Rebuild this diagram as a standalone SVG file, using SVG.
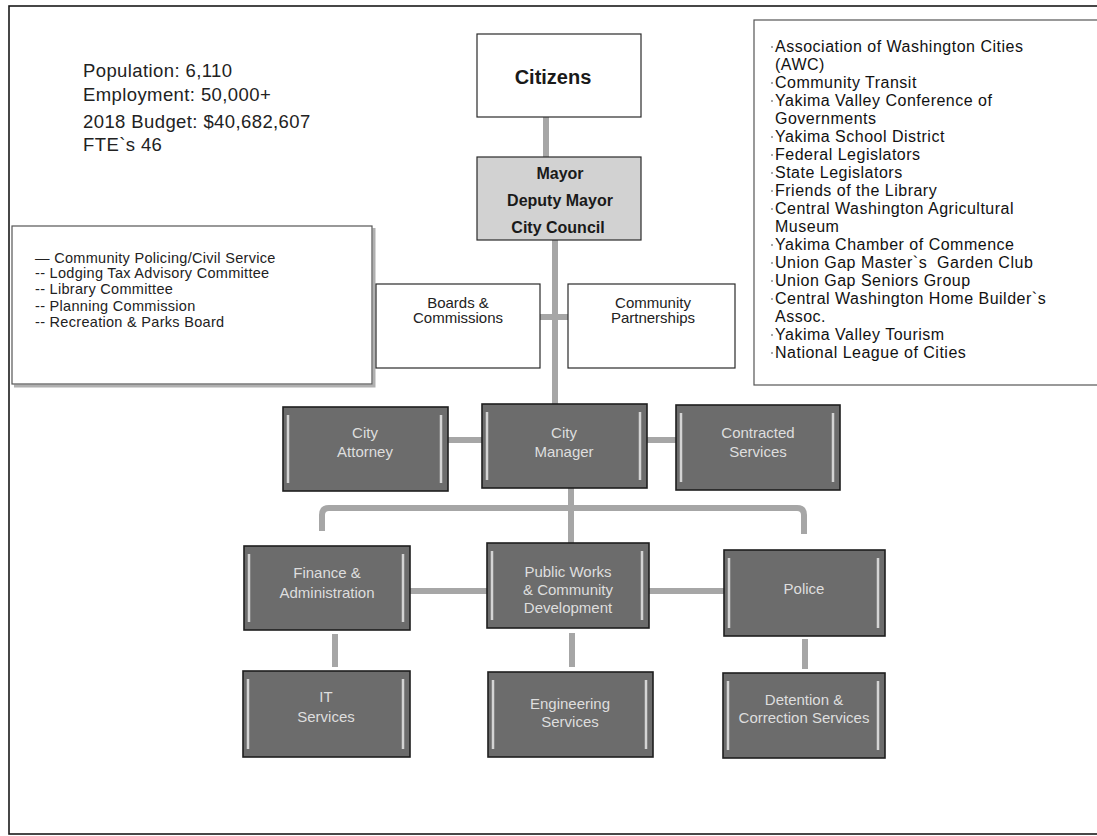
<svg xmlns="http://www.w3.org/2000/svg" width="1097" height="836" viewBox="0 0 1097 836">
<style>
text{font-family:"Liberation Sans",Arial,sans-serif}
.frame{fill:none;stroke:#1a1a1a;stroke-width:1.6}
.wbox{fill:#fff;stroke:#2a2a2a;stroke-width:1.2}
.gbox{fill:#d2d2d2;stroke:#2a2a2a;stroke-width:1.2}
.lbox{fill:#fff;stroke:#555;stroke-width:1.2}
.shadow{stroke:#b0b0b0;stroke-width:3;fill:none}
.dbox{fill:#6c6c6c;stroke:#1e1e1e;stroke-width:1.6}
.inl{stroke:#d4d4d4;stroke-width:2.5}
.dt{font-size:15px;fill:#dedede;text-anchor:middle}
.wt{font-size:15px;fill:#222;text-anchor:middle}
.bt{font-weight:bold;fill:#1a1a1a;text-anchor:middle}
.st{font-size:18.5px;fill:#222;letter-spacing:0.4px}
.rl{font-size:16px;fill:#111;letter-spacing:0.5px}
.ll{font-size:14.5px;fill:#222;letter-spacing:0.3px}
.conn{stroke:#a6a6a6;stroke-width:6;fill:none}
.dot{fill:#888}
</style>
<rect x="0" y="0" width="1097" height="836" fill="#fff"/>
<rect class="frame" x="9" y="6" width="1095" height="828"/>

<g id="stats">
<text class="st" x="83" y="77">Population: 6,110</text>
<text class="st" x="83" y="101">Employment: 50,000+</text>
<text class="st" x="83" y="128">2018 Budget: $40,682,607</text>
<text class="st" x="83" y="151">FTE`s 46</text>
</g>

<g id="connectors">
<path class="conn" d="M546 117V157"/>
<path class="conn" d="M555 240V404"/>
<path class="conn" d="M540 317H568"/>
<path class="conn" d="M448 440H482"/>
<path class="conn" d="M647 440H676"/>
<path class="conn" d="M571 488V543"/>
<path class="conn" d="M322 531V515Q322 508 329 508H797Q804 508 804 515V534"/>
<path class="conn" d="M410 591H487"/>
<path class="conn" d="M649 591H724"/>
<path class="conn" d="M335 634V667"/>
<path class="conn" d="M572 633V667"/>
<path class="conn" d="M805 639V669"/>
</g>

<g id="citizens">
<rect class="wbox" x="477" y="34" width="164" height="83"/>
<text class="bt" x="553" y="84" font-size="20">Citizens</text>
</g>

<g id="mayor">
<rect class="gbox" x="477" y="157" width="164" height="83"/>
<text class="bt" x="560" y="179" font-size="16">Mayor</text>
<text class="bt" x="560" y="206" font-size="16">Deputy Mayor</text>
<text class="bt" x="558" y="233" font-size="16">City Council</text>
</g>

<g id="partners-list">
<rect class="lbox" x="754" y="20" width="346" height="365"/>
<circle class="dot" cx="772" cy="47" r="1"/>
<circle class="dot" cx="772" cy="83" r="1"/>
<circle class="dot" cx="772" cy="101" r="1"/>
<circle class="dot" cx="772" cy="137" r="1"/>
<circle class="dot" cx="772" cy="155" r="1"/>
<circle class="dot" cx="772" cy="173" r="1"/>
<circle class="dot" cx="772" cy="191" r="1"/>
<circle class="dot" cx="772" cy="209" r="1"/>
<circle class="dot" cx="772" cy="245" r="1"/>
<circle class="dot" cx="772" cy="263" r="1"/>
<circle class="dot" cx="772" cy="281" r="1"/>
<circle class="dot" cx="772" cy="299" r="1"/>
<circle class="dot" cx="772" cy="335" r="1"/>
<circle class="dot" cx="772" cy="353" r="1"/>
<text class="rl" x="775" y="52">Association of Washington Cities</text>
<text class="rl" x="775" y="70">(AWC)</text>
<text class="rl" x="775" y="88">Community Transit</text>
<text class="rl" x="775" y="106">Yakima Valley Conference of</text>
<text class="rl" x="775" y="124">Governments</text>
<text class="rl" x="775" y="142">Yakima School District</text>
<text class="rl" x="775" y="160">Federal Legislators</text>
<text class="rl" x="775" y="178">State Legislators</text>
<text class="rl" x="775" y="196">Friends of the Library</text>
<text class="rl" x="775" y="214">Central Washington Agricultural</text>
<text class="rl" x="775" y="232">Museum</text>
<text class="rl" x="775" y="250">Yakima Chamber of Commence</text>
<text class="rl" x="775" y="268" style="white-space:pre">Union Gap Master`s  Garden Club</text>
<text class="rl" x="775" y="286">Union Gap Seniors Group</text>
<text class="rl" x="775" y="304">Central Washington Home Builder`s</text>
<text class="rl" x="775" y="322">Assoc.</text>
<text class="rl" x="775" y="340">Yakima Valley Tourism</text>
<text class="rl" x="775" y="358">National League of Cities</text>
</g>

<g id="boards-list">
<path class="shadow" d="M374 228V386H14"/>
<rect class="lbox" x="12" y="226" width="360" height="158"/>
<text class="ll" x="35" y="263">— Community Policing/Civil Service</text>
<text class="ll" x="35" y="278">-- Lodging Tax Advisory Committee</text>
<text class="ll" x="35" y="294">-- Library Committee</text>
<text class="ll" x="35" y="311">-- Planning Commission</text>
<text class="ll" x="35" y="327">-- Recreation &amp; Parks Board</text>
</g>

<g id="boards">
<rect class="wbox" x="376" y="284" width="164" height="84"/>
<text class="wt" x="458" y="308">Boards &amp;</text>
<text class="wt" x="458" y="323">Commissions</text>
</g>

<g id="community-partnerships">
<rect class="wbox" x="568" y="284" width="167" height="84"/>
<text class="wt" x="653" y="308">Community</text>
<text class="wt" x="653" y="323">Partnerships</text>
</g>

<g id="city-attorney">
<rect class="dbox" x="283" y="407" width="165" height="84"/>
<line class="inl" x1="288" y1="415" x2="288" y2="483"/><line class="inl" x1="441" y1="415" x2="441" y2="483"/>
<text class="dt" x="365" y="438">City</text>
<text class="dt" x="365" y="457">Attorney</text>
</g>

<g id="city-manager">
<rect class="dbox" x="482" y="404" width="165" height="84"/>
<line class="inl" x1="487" y1="412" x2="487" y2="480"/><line class="inl" x1="640" y1="412" x2="640" y2="480"/>
<text class="dt" x="564" y="438">City</text>
<text class="dt" x="564" y="457">Manager</text>
</g>

<g id="contracted-services">
<rect class="dbox" x="676" y="405" width="164" height="85"/>
<line class="inl" x1="681" y1="413" x2="681" y2="482"/><line class="inl" x1="833" y1="413" x2="833" y2="482"/>
<text class="dt" x="758" y="438">Contracted</text>
<text class="dt" x="758" y="457">Services</text>
</g>

<g id="finance">
<rect class="dbox" x="244" y="546" width="166" height="84"/>
<line class="inl" x1="249" y1="554" x2="249" y2="622"/><line class="inl" x1="403" y1="554" x2="403" y2="622"/>
<text class="dt" x="327" y="578">Finance &amp;</text>
<text class="dt" x="327" y="598">Administration</text>
</g>

<g id="public-works">
<rect class="dbox" x="487" y="543" width="162" height="85"/>
<line class="inl" x1="492" y1="551" x2="492" y2="620"/><line class="inl" x1="642" y1="551" x2="642" y2="620"/>
<text class="dt" x="568" y="577">Public Works</text>
<text class="dt" x="568" y="595">&amp; Community</text>
<text class="dt" x="568" y="613">Development</text>
</g>

<g id="police">
<rect class="dbox" x="724" y="550" width="161" height="86"/>
<line class="inl" x1="729" y1="558" x2="729" y2="628"/><line class="inl" x1="878" y1="558" x2="878" y2="628"/>
<text class="dt" x="804" y="594">Police</text>
</g>

<g id="it-services">
<rect class="dbox" x="243" y="671" width="167" height="86"/>
<line class="inl" x1="248" y1="679" x2="248" y2="749"/><line class="inl" x1="403" y1="679" x2="403" y2="749"/>
<text class="dt" x="326" y="702">IT</text>
<text class="dt" x="326" y="722">Services</text>
</g>

<g id="engineering-services">
<rect class="dbox" x="488" y="672" width="165" height="85"/>
<line class="inl" x1="493" y1="680" x2="493" y2="749"/><line class="inl" x1="646" y1="680" x2="646" y2="749"/>
<text class="dt" x="570" y="709">Engineering</text>
<text class="dt" x="570" y="727">Services</text>
</g>

<g id="detention">
<rect class="dbox" x="723" y="673" width="162" height="85"/>
<line class="inl" x1="728" y1="681" x2="728" y2="750"/><line class="inl" x1="878" y1="681" x2="878" y2="750"/>
<text class="dt" x="804" y="705">Detention &amp;</text>
<text class="dt" x="804" y="723">Correction Services</text>
</g>
</svg>
